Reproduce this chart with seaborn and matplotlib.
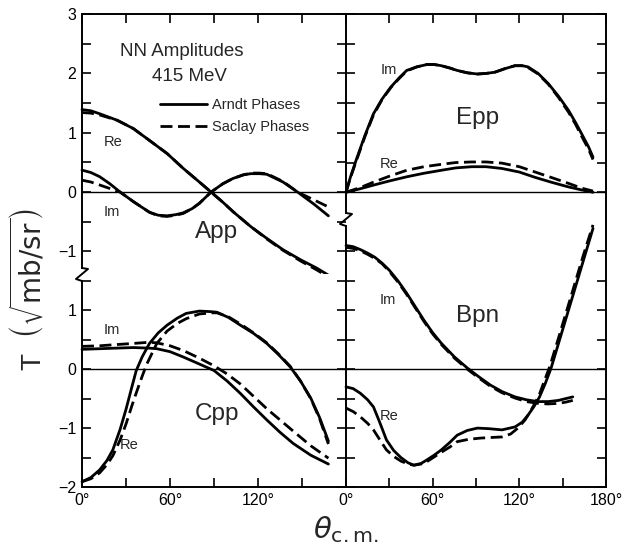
import numpy as np
import matplotlib
matplotlib.use("Agg")
import matplotlib.pyplot as plt
import seaborn as sns
from matplotlib.lines import Line2D
from matplotlib.ticker import FixedLocator, NullFormatter

# ---------------- data (theta in degrees, amplitude in sqrt(mb/sr)) ----------------
app_re_theta = [0, 6, 12, 24, 35, 46, 58, 69, 80, 88, 96, 103, 115, 126, 137, 149, 160, 168]
app_re_arndt = [1.39, 1.37, 1.32, 1.21, 1.07, 0.87, 0.65, 0.40, 0.17, 0.0, -0.17, -0.33, -0.58, -0.78, -0.97, -1.14, -1.28, -1.40]
app_re_saclay = [1.34, 1.33, 1.30, 1.21, 1.07, 0.87, 0.65, 0.40, 0.17, 0.0, -0.17, -0.33, -0.58, -0.79, -0.98, -1.16, -1.31, -1.43]

app_im_theta = [0, 6, 12, 19, 26, 35, 46, 52, 58, 64, 69, 75, 80, 88, 96, 103, 110, 115, 121, 126, 137, 147, 158, 168]
app_im_arndt = [0.37, 0.33, 0.26, 0.14, 0.0, -0.16, -0.34, -0.39, -0.40, -0.38, -0.35, -0.28, -0.19, 0.0, 0.14, 0.23, 0.29, 0.31, 0.31, 0.30, 0.17, 0.0, -0.20, -0.40]
app_im_saclay = [0.20, 0.17, 0.12, 0.06, 0.0, -0.16, -0.34, -0.40, -0.41, -0.39, -0.36, -0.28, -0.19, 0.0, 0.14, 0.23, 0.29, 0.32, 0.32, 0.31, 0.18, 0.0, -0.13, -0.25]

epp_im_theta = [0, 3, 7, 13, 19, 25, 31, 37, 42, 49, 56, 61, 66, 72, 77, 84, 91, 97, 103, 110, 117, 122, 126, 133, 140, 147, 154, 159, 163, 168, 171]
epp_im_arndt = [0, 0.25, 0.54, 0.95, 1.32, 1.57, 1.77, 1.93, 2.05, 2.11, 2.15, 2.15, 2.13, 2.09, 2.05, 2.01, 1.99, 2.00, 2.02, 2.08, 2.13, 2.13, 2.11, 2.00, 1.83, 1.62, 1.38, 1.17, 0.99, 0.76, 0.59]
epp_im_saclay = [0, 0.24, 0.52, 0.93, 1.30, 1.56, 1.76, 1.92, 2.04, 2.11, 2.15, 2.15, 2.13, 2.09, 2.05, 2.01, 1.99, 2.00, 2.02, 2.08, 2.13, 2.13, 2.10, 1.99, 1.82, 1.60, 1.35, 1.14, 0.95, 0.72, 0.55]

epp_re_theta = [0, 10, 19, 30, 42, 54, 66, 76, 87, 97, 108, 120, 131, 142, 154, 163, 171]
epp_re_arndt = [0, 0.06, 0.12, 0.19, 0.26, 0.32, 0.37, 0.41, 0.43, 0.43, 0.40, 0.34, 0.25, 0.17, 0.09, 0.04, 0.0]
epp_re_saclay = [0, 0.08, 0.17, 0.27, 0.37, 0.43, 0.47, 0.50, 0.51, 0.51, 0.49, 0.43, 0.34, 0.25, 0.15, 0.07, 0.02]

cpp_re_arndt_theta = [0, 6, 12, 17, 21, 26, 30, 34, 37, 41, 46, 52, 58, 65, 71, 80, 88, 92, 100, 108, 117, 126, 134, 142, 149, 156, 162, 168]
cpp_re_arndt = [-1.91, -1.84, -1.71, -1.55, -1.37, -1.02, -0.68, -0.30, -0.02, 0.21, 0.44, 0.62, 0.75, 0.87, 0.95, 0.99, 0.98, 0.97, 0.88, 0.75, 0.61, 0.44, 0.25, 0.04, -0.20, -0.49, -0.82, -1.22]
cpp_re_saclay_theta = [0, 6, 12, 17, 21, 26, 30, 34, 37, 41, 44, 51, 58, 65, 71, 80, 88, 92, 100, 108, 117, 126, 134, 142, 149, 156, 162, 168]
cpp_re_saclay = [-1.91, -1.86, -1.76, -1.62, -1.47, -1.20, -0.93, -0.62, -0.40, -0.12, 0.08, 0.44, 0.65, 0.78, 0.86, 0.94, 0.96, 0.96, 0.89, 0.77, 0.62, 0.45, 0.26, 0.05, -0.20, -0.50, -0.84, -1.27]

cpp_im_theta = [0, 12, 23, 35, 46, 51, 60, 69, 80, 90, 99, 108, 117, 126, 135, 144, 156, 168]
cpp_im_arndt = [0.34, 0.35, 0.36, 0.37, 0.36, 0.35, 0.30, 0.21, 0.09, -0.02, -0.20, -0.41, -0.64, -0.86, -1.07, -1.26, -1.46, -1.61]
cpp_im_saclay = [0.39, 0.40, 0.42, 0.44, 0.46, 0.45, 0.40, 0.32, 0.19, 0.06, -0.08, -0.25, -0.46, -0.67, -0.86, -1.05, -1.30, -1.51]

bpn_im_theta = [0, 5, 10, 15, 20, 25, 30, 36, 42, 48, 54, 60, 66, 75, 84, 92, 100, 108, 117, 125, 133, 140, 147, 152, 157]
bpn_im_arndt = [2.10, 2.08, 2.03, 1.97, 1.90, 1.80, 1.68, 1.50, 1.29, 1.06, 0.83, 0.62, 0.44, 0.21, 0.02, -0.13, -0.27, -0.38, -0.47, -0.52, -0.55, -0.55, -0.53, -0.50, -0.47]
bpn_im_saclay = [2.07, 2.05, 2.01, 1.95, 1.88, 1.79, 1.66, 1.48, 1.27, 1.04, 0.81, 0.60, 0.42, 0.19, 0.00, -0.15, -0.29, -0.40, -0.49, -0.55, -0.58, -0.59, -0.58, -0.56, -0.53]

bpn_re_arndt_theta = [0, 5, 10, 15, 19, 23, 28, 33, 38, 43, 47, 52, 56, 61, 66, 72, 77, 84, 91, 99, 108, 117, 122, 126, 130, 134, 138, 142, 148, 154, 160, 165, 171]
bpn_re_arndt = [-0.30, -0.33, -0.41, -0.52, -0.64, -0.88, -1.20, -1.38, -1.50, -1.59, -1.63, -1.60, -1.54, -1.46, -1.37, -1.24, -1.12, -1.04, -1.00, -1.01, -1.03, -0.98, -0.90, -0.78, -0.64, -0.47, -0.24, 0.02, 0.51, 1.00, 1.49, 1.90, 2.39]
bpn_re_saclay_theta = [0, 5, 10, 15, 19, 24, 28, 33, 38, 43, 47, 52, 56, 61, 66, 72, 77, 85, 93, 100, 108, 114, 119, 124, 128, 131, 134, 137, 141, 147, 153, 159, 164, 171]
bpn_re_saclay = [-0.66, -0.72, -0.81, -0.92, -1.03, -1.22, -1.37, -1.48, -1.56, -1.61, -1.63, -1.61, -1.57, -1.49, -1.41, -1.32, -1.23, -1.19, -1.17, -1.16, -1.15, -1.10, -1.00, -0.86, -0.70, -0.57, -0.42, -0.22, 0.04, 0.52, 1.01, 1.50, 1.91, 2.45]

legend_labels = ["Arndt Phases", "Saclay Phases"]
x_tick_labels_left = ["0°", "60°", "120°", ""]
x_tick_labels_right = ["0°", "60°", "120°", "180°"]

# ---------------- styling ----------------
sns.set_style("white")
plt.rcParams['font.family'] = ['Liberation Sans', 'DejaVu Sans']
plt.rcParams['mathtext.fontset'] = 'dejavusans'

W, H = 626, 550
fig = plt.figure(figsize=(W / 100, H / 100), dpi=100)


def add_ax(x0, x1, y0, y1):
    return fig.add_axes([x0 / W, 1 - y1 / H, (x1 - x0) / W, (y1 - y0) / H])


XL0, XM, XR = 82, 346, 606
YT, YB = 14, 487
YBRK_L, YBRK_R = 274, 219

ax_app = add_ax(XL0, XM, YT, YBRK_L)
ax_cpp = add_ax(XL0, XM, YBRK_L, YB)
ax_epp = add_ax(XM, XR, YT, YBRK_R)
ax_bpn = add_ax(XM, XR, YBRK_R, YB)

ylims = {ax_app: (-1.38, 3.0), ax_cpp: (-2.0, 1.62), ax_epp: (-0.45, 3.0), ax_bpn: (-2.0, 2.55)}
LW = 2.0
DASH = (0, (4.3, 2.0))
SPW = 1.4


def curve(ax, th, val, dashed=False):
    sns.lineplot(x=th, y=val, ax=ax, color="black", lw=LW,
                 ls=DASH if dashed else "-", sort=False, estimator=None,
                 clip_on=False)


curve(ax_app, app_re_theta, app_re_arndt)
curve(ax_app, app_re_theta, app_re_saclay, True)
curve(ax_app, app_im_theta, app_im_arndt)
curve(ax_app, app_im_theta, app_im_saclay, True)

curve(ax_epp, epp_im_theta, epp_im_arndt)
curve(ax_epp, epp_im_theta, epp_im_saclay, True)
curve(ax_epp, epp_re_theta, epp_re_arndt)
curve(ax_epp, epp_re_theta, epp_re_saclay, True)

curve(ax_cpp, cpp_re_arndt_theta, cpp_re_arndt)
curve(ax_cpp, cpp_re_saclay_theta, cpp_re_saclay, True)
curve(ax_cpp, cpp_im_theta, cpp_im_arndt)
curve(ax_cpp, cpp_im_theta, cpp_im_saclay, True)

curve(ax_bpn, bpn_im_theta, bpn_im_arndt)
curve(ax_bpn, bpn_im_theta, bpn_im_saclay, True)
curve(ax_bpn, bpn_re_arndt_theta, bpn_re_arndt)
curve(ax_bpn, bpn_re_saclay_theta, bpn_re_saclay, True)

for ax, (lo, hi) in ylims.items():
    ax.set_xlim(0, 180)
    ax.set_ylim(lo, hi)
    ax.axhline(0, color="black", lw=1.0, zorder=1)
    ax.set_xlabel("")
    ax.set_ylabel("")
    for s in ax.spines.values():
        s.set_linewidth(SPW)
        s.set_color("black")
    maj = [v for v in range(-2, 4) if lo <= v <= hi]
    mnr = [v + 0.5 for v in range(-3, 3) if lo + 0.1 <= v + 0.5 <= hi - 0.1]
    ax.yaxis.set_major_locator(FixedLocator(maj))
    ax.yaxis.set_minor_locator(FixedLocator(mnr))
    ax.xaxis.set_major_locator(FixedLocator([0, 60, 120, 180]))
    ax.xaxis.set_minor_locator(FixedLocator([30, 90, 150]))
    ax.tick_params(which="both", direction="in", length=6.5, width=1.2,
                   left=True, right=True, labelsize=11.5, pad=4, colors="black")

# top panels: ticks on top, no bottom spine
for ax in (ax_app, ax_epp):
    ax.spines["bottom"].set_visible(False)
    ax.tick_params(which="both", top=True, bottom=False, labelbottom=False)
# bottom panels: no top spine
for ax in (ax_cpp, ax_bpn):
    ax.spines["top"].set_visible(False)
    ax.tick_params(which="both", top=False, bottom=True, labelbottom=True)
# left panels: labels on the left, right spine drawn by right panels
for ax in (ax_app, ax_cpp):
    ax.spines["right"].set_visible(False)
    ax.tick_params(which="both", labelleft=True)
# right panels: no y labels
for ax in (ax_epp, ax_bpn):
    ax.tick_params(which="both", labelleft=False)

ax_cpp.set_xticklabels(x_tick_labels_left)
ax_bpn.set_xticklabels(x_tick_labels_right)
for ax in (ax_app, ax_epp):
    ax.xaxis.set_major_formatter(NullFormatter())

# broken-axis gaps on the vertical spines
ax_app.spines["left"].set_bounds(-1.38 + 6 / 59.4, 3.0)
ax_cpp.spines["left"].set_bounds(-2.0, 1.62 - 7 / 58.9)
ax_epp.spines["left"].set_bounds(-0.45 + 6 / 59.4, 3.0)
ax_bpn.spines["left"].set_bounds(-2.0, 2.55 - 7 / 58.9)


def zigzag(xp, yb):
    xs = [xp, xp + 6, xp - 6, xp]
    ys = [yb - 6, yb - 5, yb + 5, yb + 7]
    fig.add_artist(Line2D([x / W for x in xs], [1 - y / H for y in ys],
                          transform=fig.transFigure, color="black", lw=SPW))


zigzag(XL0, YBRK_L)
zigzag(XM, YBRK_R)

# ---------------- annotations ----------------
ax_app.text(68.2, 2.36, "NN Amplitudes", ha="center", va="center", fontsize=13.5)
ax_app.text(73, 1.94, "415 MeV", ha="center", va="center", fontsize=13.5)
ax_app.text(21, 0.84, "Re", ha="center", va="center", fontsize=10.5)
ax_app.text(20.5, -0.34, "Im", ha="center", va="center", fontsize=10.5)
ax_app.text(91.4, -0.67, "App", ha="center", va="center", fontsize=17.5)

ax_epp.text(29.8, 2.05, "Im", ha="center", va="center", fontsize=10.5)
ax_epp.text(29.8, 0.47, "Re", ha="center", va="center", fontsize=10.5)
ax_epp.text(91.3, 1.25, "Epp", ha="center", va="center", fontsize=17.5)

ax_cpp.text(20.5, 0.66, "Im", ha="center", va="center", fontsize=10.5)
ax_cpp.text(32, -1.29, "Re", ha="center", va="center", fontsize=10.5)
ax_cpp.text(92, -0.76, "Cpp", ha="center", va="center", fontsize=17.5)

ax_bpn.text(29, 1.17, "Im", ha="center", va="center", fontsize=10.5)
ax_bpn.text(29.8, -0.80, "Re", ha="center", va="center", fontsize=10.5)
ax_bpn.text(91.3, 0.90, "Bpn", ha="center", va="center", fontsize=17.5)

handles = [Line2D([], [], color="black", lw=LW),
           Line2D([], [], color="black", lw=LW, ls=DASH)]
ax_app.legend(handles, legend_labels, loc="upper left",
              bbox_to_anchor=(0.295, 0.678), frameon=False, fontsize=10.5,
              handlelength=3.2, handletextpad=0.35, labelspacing=0.6,
              borderpad=0, borderaxespad=0)

fig.text(28 / W, 1 - 290 / H, r"T  $\left(\sqrt{\mathrm{mb/sr}}\right)$",
         rotation=90, ha="center", va="center", fontsize=20)
fig.text(346 / W, 1 - 530 / H, r"$\theta_{\mathrm{c.m.}}$",
         ha="center", va="center", fontsize=21)

fig.savefig("out.png", dpi=100)
